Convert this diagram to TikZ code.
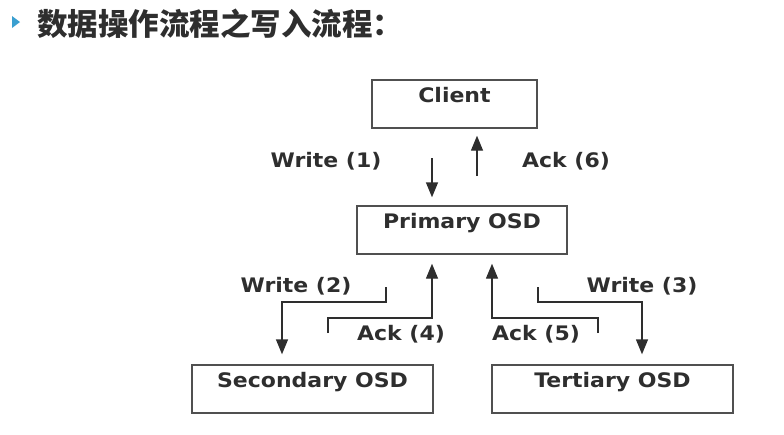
\documentclass[tikz,border=0pt]{standalone}
\usepackage{fontspec}
\usepackage{xcolor}
\usepackage{tikz}
\usetikzlibrary{arrows.meta, positioning, calc, shadows}
\setmainfont{DejaVu Sans}
\newfontfamily\diagfont{DejaVu Sans Bold}[FakeStretch=1.1]
\newfontfamily\cjk{Noto Sans CJK SC}

\definecolor{inkgray}{HTML}{2E2E2E}
\definecolor{boxgray}{HTML}{505050}
\definecolor{bulletblue}{HTML}{3A9FD0}

\begin{document}
\begin{tikzpicture}[x=1pt, y=-1pt]
\tikzstyle{osd} = [rectangle, draw=boxgray, line width=1.4pt, fill=white, text=inkgray, font=\diagfont\fontsize{20}{22}\selectfont, inner sep=4pt, text height=18pt, text depth=22pt, minimum height=48pt, drop shadow={opacity=0.25, shadow xshift=1.2pt, shadow yshift=-1.2pt}]
\tikzstyle{lbl} = [text=inkgray, font=\diagfont\fontsize{20}{22}\selectfont, anchor=base, inner sep=0pt]
\tikzstyle{arrow} = [draw=inkgray, line width=1.4pt, ->, >={Triangle[length=15pt, width=12pt]}]

\useasboundingbox (0,0) rectangle (784,434);

% title
\fill[bulletblue] (12,16) -- (20,22) -- (12,28) -- cycle;
\node[anchor=base west, inner sep=0pt, text=inkgray, font=\cjk\bfseries\fontsize{30.5}{32}\selectfont] (title) at (37,35) {数据操作流程之写入流程：};

% boxes
\node[osd, minimum width=165pt] (client) at (454.5,104) {Client};
\node[osd, minimum width=210pt] (primary) at (462,230) {Primary OSD};
\node[osd, minimum width=241pt] (secondary) at (312.5,389) {Secondary OSD};
\node[osd, minimum width=241pt] (tertiary) at (612.5,389) {Tertiary OSD};

% labels
\node[lbl] (w1lbl) at (326,167) {Write (1)};
\node[lbl] (a6lbl) at (566,167) {Ack (6)};
\node[lbl] (w2lbl) at (296,292) {Write (2)};
\node[lbl] (w3lbl) at (642,292) {Write (3)};
\node[lbl] (a4lbl) at (401,340) {Ack (4)};
\node[lbl] (a5lbl) at (536,340) {Ack (5)};

% free ends
\coordinate (w1) at (432,158);
\coordinate (a6) at (477,176);
\coordinate (w2) at (386,287);
\coordinate (w3) at (538,287);
\coordinate (a4) at (328,333);
\coordinate (a5) at (598,333);

\draw[arrow, shorten >=8pt] (w1) -- (w1 |- primary.north);
\draw[arrow, shorten >=7pt] (a6) -- (a6 |- client.south);
\draw[arrow, shorten >=10pt] (w2) -- ++(0,15) -| ([xshift=-30.5pt]secondary.north);
\draw[arrow, shorten >=10pt] (w3) -- ++(0,15) -| ([xshift=29.5pt]tertiary.north);
\draw[arrow, shorten >=9pt] (a4) -- ++(0,-15) -| ([xshift=-30pt]primary.south);
\draw[arrow, shorten >=9pt] (a5) -- ++(0,-15) -| ([xshift=30pt]primary.south);
\end{tikzpicture}
\end{document}
